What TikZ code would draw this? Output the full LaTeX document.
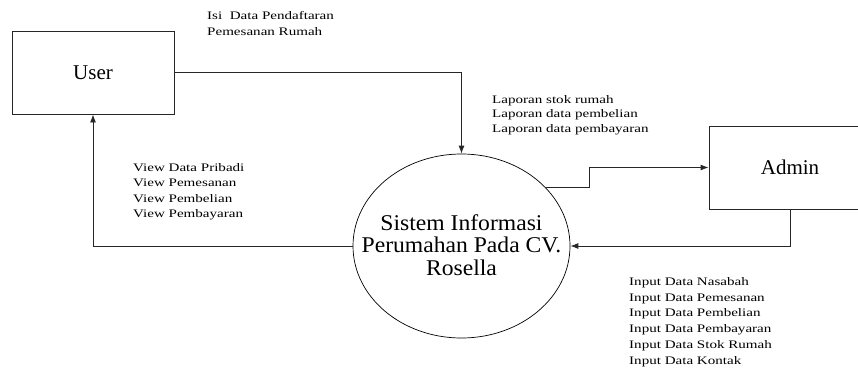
\documentclass[tikz,border=0pt]{standalone}
\usepackage{fontspec}
\setmainfont{Liberation Serif}
\newfontfamily\lblfont[FakeStretch=1.31]{Liberation Serif}
\newfontfamily\procfont[FakeStretch=1.05]{Liberation Serif}
\usetikzlibrary{arrows.meta,shapes.geometric}
\begin{document}
\begin{tikzpicture}[x=1pt,y=-1pt,
  box/.style={draw=black!85, line width=0.9pt, minimum width=162pt, minimum height=83pt, inner sep=0pt, font=\fontsize{21}{24}\selectfont},
  proc/.style={draw=black, line width=0.7pt, ellipse, minimum width=217pt, minimum height=184pt, inner sep=0pt},
  proctext/.style={inner sep=0pt, align=center, font=\procfont\fontsize{22.5}{22.5}\selectfont},
  flow/.style={draw=black!85, line width=0.9pt, -{Latex[length=8pt,width=6pt]}},
  lbl/.style={anchor=north west, inner sep=0pt, align=left}]
\useasboundingbox (0,0) rectangle (858,372);
\clip (0,0) rectangle (858,372);

\node[box] (user) at (93,72.5) {User};
\node[box] (admin) at (790,167.5) {Admin};
\node[proc] (sys) at (461.5,246) {};
\node[proctext] (systext) at ([yshift=1pt]sys.center) {Sistem Informasi\\Perumahan Pada CV.\\Rosella};

\node[lbl, font=\lblfont\fontsize{11.5}{16}\selectfont] (l1) at (207,11) {Isi\ \ Data Pendaftaran\\Pemesanan Rumah};
\node[lbl, font=\lblfont\fontsize{11.5}{14.5}\selectfont] (l2) at (492,95) {Laporan stok rumah\\Laporan data pembelian\\Laporan data pembayaran};
\node[lbl, font=\lblfont\fontsize{11.5}{15.5}\selectfont] (l3) at (133,163) {View Data Pribadi\\View Pemesanan\\View Pembelian\\View Pembayaran};
\node[lbl, font=\lblfont\fontsize{11.5}{15.9}\selectfont] (l4) at (629,277) {Input Data Nasabah\\Input Data Pemesanan\\Input Data Pembelian\\Input Data Pembayaran\\Input Data Stok Rumah\\Input Data Kontak};

\draw[flow] (user.east) -| (sys.north);
\draw[flow] (sys.west) -| (user.south);
\draw[flow] (sys.35.5) -- ++(44,0) |- (admin.west);
\draw[flow] (admin.south) |- (sys.east);
\end{tikzpicture}
\end{document}
